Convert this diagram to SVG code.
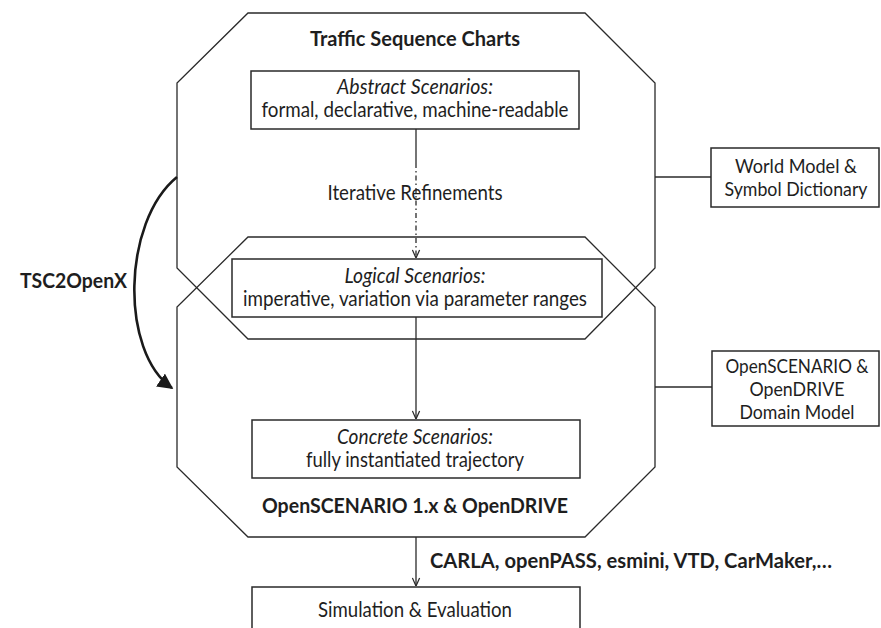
<svg xmlns="http://www.w3.org/2000/svg" width="881" height="628" viewBox="0 0 881 628">
<defs>
<style>
.ln{fill:none;stroke:#2a2a2a;stroke-width:1.3}
.bx{fill:#fff;stroke:#2a2a2a;stroke-width:1.5}
.t{font-family:Lato,"Open Sans","Liberation Sans",sans-serif;font-size:21px;fill:#1e1e1e;text-anchor:middle}
.s{font-size:18.5px}
.i{font-style:italic}
.b{font-weight:bold;font-size:20px}
</style>
<marker id="open" viewBox="0 0 10 10" refX="10" refY="5" markerWidth="9" markerHeight="9" markerUnits="userSpaceOnUse" orient="auto">
<path d="M1,1 L10,5 L1,9" fill="none" stroke="#2a2a2a" stroke-width="1.4"/>
</marker>
<marker id="fill" viewBox="0 0 10 10" refX="9" refY="5" markerWidth="6" markerHeight="6" orient="auto">
<path d="M0,0 L10,5 L0,10 z" fill="#1a1a1a"/>
</marker>
</defs>
<rect width="881" height="628" fill="#fff"/>

<g id="tsc">
<polygon class="ln" points="248,13 585,13 655,83 655,268 585,339 248,339 177,268 177,83"/>
<text class="t b" x="415" y="46" textLength="210" lengthAdjust="spacingAndGlyphs">Traffic Sequence Charts</text>
</g>
<g id="openscenario">
<polygon class="ln" points="248,237 585,237 655,307 655,467 585,537 248,537 177,467 177,307"/>
<text class="t b" x="415" y="513" textLength="306" lengthAdjust="spacingAndGlyphs">OpenSCENARIO 1.x &amp; OpenDRIVE</text>
</g>

<g id="connectors">
<line class="ln" x1="416" y1="129" x2="416" y2="163"/>
<line class="ln" x1="416" y1="163" x2="416" y2="258" stroke-dasharray="5,3,1.5,3" marker-end="url(#open)"/>
<line class="ln" x1="416" y1="317" x2="416" y2="419" marker-end="url(#open)"/>
<line class="ln" x1="416" y1="537" x2="416" y2="586" marker-end="url(#open)"/>
<line class="ln" x1="655" y1="177" x2="711" y2="177"/>
<line class="ln" x1="655" y1="387" x2="712" y2="387"/>
<path d="M177,177 C122,222 120,352 172,388" fill="none" stroke="#1a1a1a" stroke-width="2.6" marker-end="url(#fill)"/>
<text class="t b" x="73.5" y="288" textLength="107" lengthAdjust="spacingAndGlyphs">TSC2OpenX</text>
<text class="t b" x="430" y="568" style="text-anchor:start" textLength="402" lengthAdjust="spacingAndGlyphs">CARLA, openPASS, esmini, VTD, CarMaker,…</text>
<text class="t" x="415" y="200" textLength="175" lengthAdjust="spacingAndGlyphs">Iterative Refinements</text>
</g>

<g id="abstract">
<rect class="bx" x="251" y="71" width="328" height="58"/>
<text class="t i" x="415" y="94" textLength="156" lengthAdjust="spacingAndGlyphs">Abstract Scenarios:</text>
<text class="t" x="415" y="117" textLength="307" lengthAdjust="spacingAndGlyphs">formal, declarative, machine-readable</text>
</g>
<g id="logical">
<rect class="bx" x="232" y="259" width="370" height="58"/>
<text class="t i" x="415" y="283" textLength="141" lengthAdjust="spacingAndGlyphs">Logical Scenarios:</text>
<text class="t" x="415" y="306" textLength="344" lengthAdjust="spacingAndGlyphs">imperative, variation via parameter ranges</text>
</g>
<g id="concrete">
<rect class="bx" x="252" y="420" width="328" height="58"/>
<text class="t i" x="415" y="444" textLength="156" lengthAdjust="spacingAndGlyphs">Concrete Scenarios:</text>
<text class="t" x="415" y="467" textLength="218" lengthAdjust="spacingAndGlyphs">fully instantiated trajectory</text>
</g>
<g id="simulation">
<rect class="bx" x="252" y="587" width="328" height="60"/>
<text class="t" x="415" y="617" textLength="194" lengthAdjust="spacingAndGlyphs">Simulation &amp; Evaluation</text>
</g>
<g id="worldmodel">
<rect class="bx" x="711" y="148" width="168" height="59"/>
<text class="t s" x="796" y="173" textLength="122" lengthAdjust="spacingAndGlyphs">World Model &amp;</text>
<text class="t s" x="796" y="196" textLength="143" lengthAdjust="spacingAndGlyphs">Symbol Dictionary</text>
</g>
<g id="domainmodel">
<rect class="bx" x="712" y="351" width="167" height="75"/>
<text class="t s" x="797" y="373" textLength="143" lengthAdjust="spacingAndGlyphs">OpenSCENARIO &amp;</text>
<text class="t s" x="797" y="396" textLength="95" lengthAdjust="spacingAndGlyphs">OpenDRIVE</text>
<text class="t s" x="797" y="419" textLength="115" lengthAdjust="spacingAndGlyphs">Domain Model</text>
</g>
</svg>
